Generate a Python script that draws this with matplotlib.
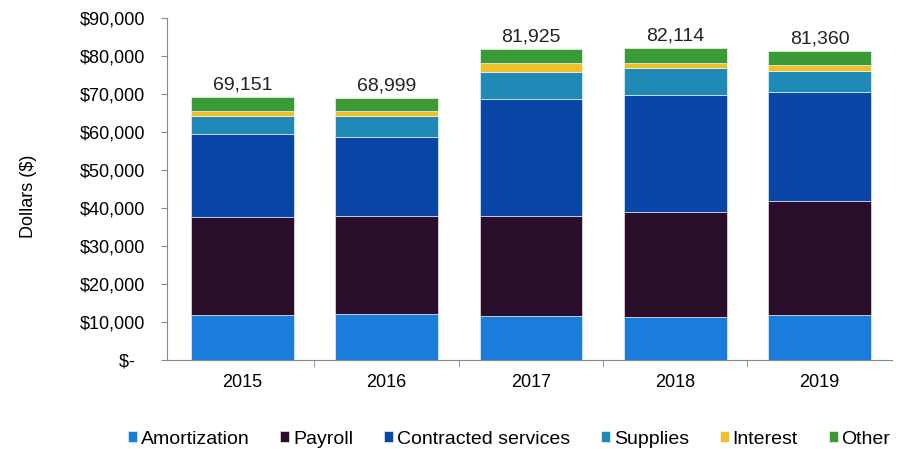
import numpy as np
import matplotlib.pyplot as plt
from matplotlib.ticker import FuncFormatter

plt.rcParams['font.family'] = ['Liberation Sans', 'DejaVu Sans']

years = ['2015', '2016', '2017', '2018', '2019']
amortization = [11800, 12100, 11600, 11400, 11800]
payroll = [25900, 25800, 26300, 27500, 30100]
contracted = [21700, 20900, 30900, 30800, 28500]
supplies = [4800, 5400, 7100, 7200, 5700]
interest = [1300, 1200, 2300, 1300, 1400]
totals = [69151, 68999, 81925, 82114, 81360]

# "Other" is whatever is left to reach the reported total
other = [t - (a + p + c + s + i) for t, a, p, c, s, i in
         zip(totals, amortization, payroll, contracted, supplies, interest)]

series = [
    ('Amortization', amortization, '#1a7ddc'),
    ('Payroll', payroll, '#2b0e2c'),
    ('Contracted services', contracted, '#0a46a6'),
    ('Supplies', supplies, '#1e8ab5'),
    ('Interest', interest, '#f0c02c'),
    ('Other', other, '#3c9a36'),
]

fig = plt.figure(figsize=(8.99, 4.49), dpi=100)
ax = fig.add_axes([0.186, 0.198, 0.806, 0.762])

x = np.arange(len(years))
bottom = np.zeros(len(years))
for name, vals, color in series:
    ax.bar(x, vals, width=0.71, bottom=bottom, color=color, label=name,
           edgecolor='white', linewidth=0.4)
    bottom += np.array(vals)

for xi, t in zip(x, totals):
    ax.text(xi, t + 900, f'{t:,}', ha='center', va='bottom', fontsize=14,
            color='#222222')

ax.set_xlim(-0.52, len(years) - 0.5)
ax.set_ylim(0, 90000)
ax.set_yticks(np.arange(0, 90001, 10000))
ax.yaxis.set_major_formatter(FuncFormatter(
    lambda v, p: '$-  ' if v == 0 else f'${v:,.0f}'))
ax.tick_params(axis='y', length=4, labelsize=13, pad=12, color='#888888')

ax.set_xticks(x)
ax.set_xticklabels(years)
ax.set_xticks(np.arange(0.5, len(years) - 0.5, 1), minor=True)
ax.tick_params(axis='x', which='major', length=0, labelsize=13, pad=10)
ax.tick_params(axis='x', which='minor', length=5, color='#888888')

for side in ['top', 'right']:
    ax.spines[side].set_visible(False)
ax.spines['bottom'].set_color('#888888')
ax.spines['left'].set_color('#888888')

ax.set_ylabel('Dollars ($)', fontsize=13)
ax.yaxis.set_label_coords(-0.18, 0.48)

ax.legend(loc='upper center', bbox_to_anchor=(0.472, -0.155), ncol=6,
          frameon=False, fontsize=14, handlelength=0.45, handleheight=0.45,
          handletextpad=0.2, columnspacing=1.6)

fig.savefig('out.png', dpi=100)
